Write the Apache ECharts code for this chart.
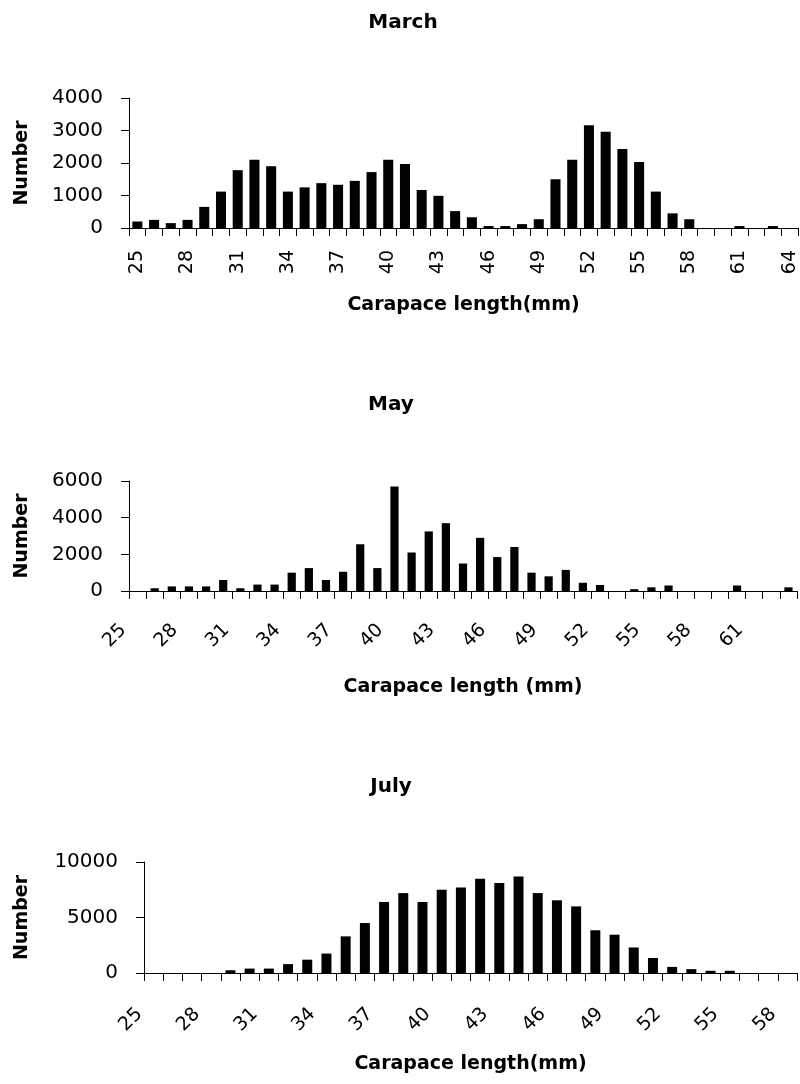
<!DOCTYPE html>
<html>
<head>
<meta charset="utf-8">
<script src="https://cdn.jsdelivr.net/npm/echarts@6/dist/echarts.min.js"></script>
<style>
html,body{margin:0;padding:0;background:#fff;}
#chart{width:800px;height:1084px;}
</style>
</head>
<body>
<div id="chart"></div>
<script>
// ---- Data ----
const marchCategories = ['25','26','27','28','29','30','31','32','33','34','35','36','37','38','39','40','41','42','43','44','45','46','47','48','49','50','51','52','53','54','55','56','57','58','59','60','61','62','63','64'];
const marchValues = [200,250,150,250,650,1120,1780,2100,1900,1120,1250,1380,1330,1450,1720,2100,1970,1170,990,520,330,60,60,120,270,1500,2100,3160,2960,2430,2030,1120,450,270,0,0,60,0,60,0];

const mayCategories = ['25','26','27','28','29','30','31','32','33','34','35','36','37','38','39','40','41','42','43','44','45','46','47','48','49','50','51','52','53','54','55','56','57','58','59','60','61','62','63'];
const mayValues = [0,150,250,250,250,600,150,350,350,1000,1250,600,1050,2550,1250,5700,2100,3250,3700,1500,2900,1850,2400,1000,800,1150,450,330,0,100,200,300,0,0,0,300,0,0,200];

const julyCategories = ['25','26','27','28','29','30','31','32','33','34','35','36','37','38','39','40','41','42','43','44','45','46','47','48','49','50','51','52','53','54','55','56','57','58'];
const julyValues = [0,0,0,0,250,400,400,800,1200,1750,3300,4500,6400,7200,6400,7500,7700,8500,8100,8700,7200,6550,6000,3850,3450,2300,1350,550,350,200,200,0,0,0];

const titles = ['March','May','July'];
const xNames = ['Carapace length(mm)','Carapace length (mm)','Carapace length(mm)'];
const yName = 'Number';
const yMax = [4000, 6000, 10000];
const yStep = [1000, 2000, 5000];

// ---- Chart ----
const chart = echarts.init(document.getElementById('chart'), null, {renderer:'canvas'});
const FONT = 'DejaVu Sans';
const black = '#000';

const grids = [
  {left:129, right:2, top:98, height:130},
  {left:129, right:3, top:481, height:110},
  {left:144, right:3, top:862, height:111}
];
const cats = [marchCategories, mayCategories, julyCategories];
const vals = [marchValues, mayValues, julyValues];
const rot = [90, 45, 45];
const labelMargin = [22, 22, 24];
const labelPad = [[0,0,0,0],[0,20,0,0],[0,20,0,0]];
const xNameGap = [68, 87, 82];
const yNameGap = [97, 97, 112];
const barGap = ['40%','52%','48%'];
const titlePos = [{x:398,y:8},{x:386,y:390},{x:386,y:772}];

const option = {
  animation:false,
  backgroundColor:'#fff',
  title: titles.map((t,i)=>({
    text:t, left:titlePos[i].x, top:titlePos[i].y, textAlign:'center',
    textStyle:{fontFamily:FONT, fontWeight:'bold', fontSize:20, color:black}
  })),
  grid: grids,
  xAxis: grids.map((g,i)=>({
    type:'category', gridIndex:i, data:cats[i],
    name:xNames[i], nameLocation:'middle', nameGap:xNameGap[i],
    nameTextStyle:{fontFamily:FONT, fontWeight:'bold', fontSize:19, color:black},
    axisLine:{lineStyle:{color:black, width:1}},
    axisTick:{show:true, interval:0, length:8, lineStyle:{color:black}},
    axisLabel:{interval:2, rotate:rot[i], margin:labelMargin[i], padding:labelPad[i],
      fontFamily:FONT, fontSize:19, color:black},
    splitLine:{show:false}
  })),
  yAxis: grids.map((g,i)=>({
    type:'value', gridIndex:i, min:0, max:yMax[i], interval:yStep[i],
    name:yName, nameLocation:'middle', nameGap:yNameGap[i], nameRotate:90,
    nameTextStyle:{fontFamily:FONT, fontWeight:'bold', fontSize:19, color:black},
    axisLine:{show:true, lineStyle:{color:black, width:1}},
    axisTick:{show:true, length:8, lineStyle:{color:black}},
    axisLabel:{margin:26, fontFamily:FONT, fontSize:20, color:black,
      formatter:function(v){ return String(v); }},
    splitLine:{show:false}
  })),
  series: vals.map((v,i)=>({
    type:'bar', xAxisIndex:i, yAxisIndex:i, data:v,
    barCategoryGap:barGap[i], itemStyle:{color:black}
  }))
};
chart.setOption(option);
</script>
</body>
</html>
